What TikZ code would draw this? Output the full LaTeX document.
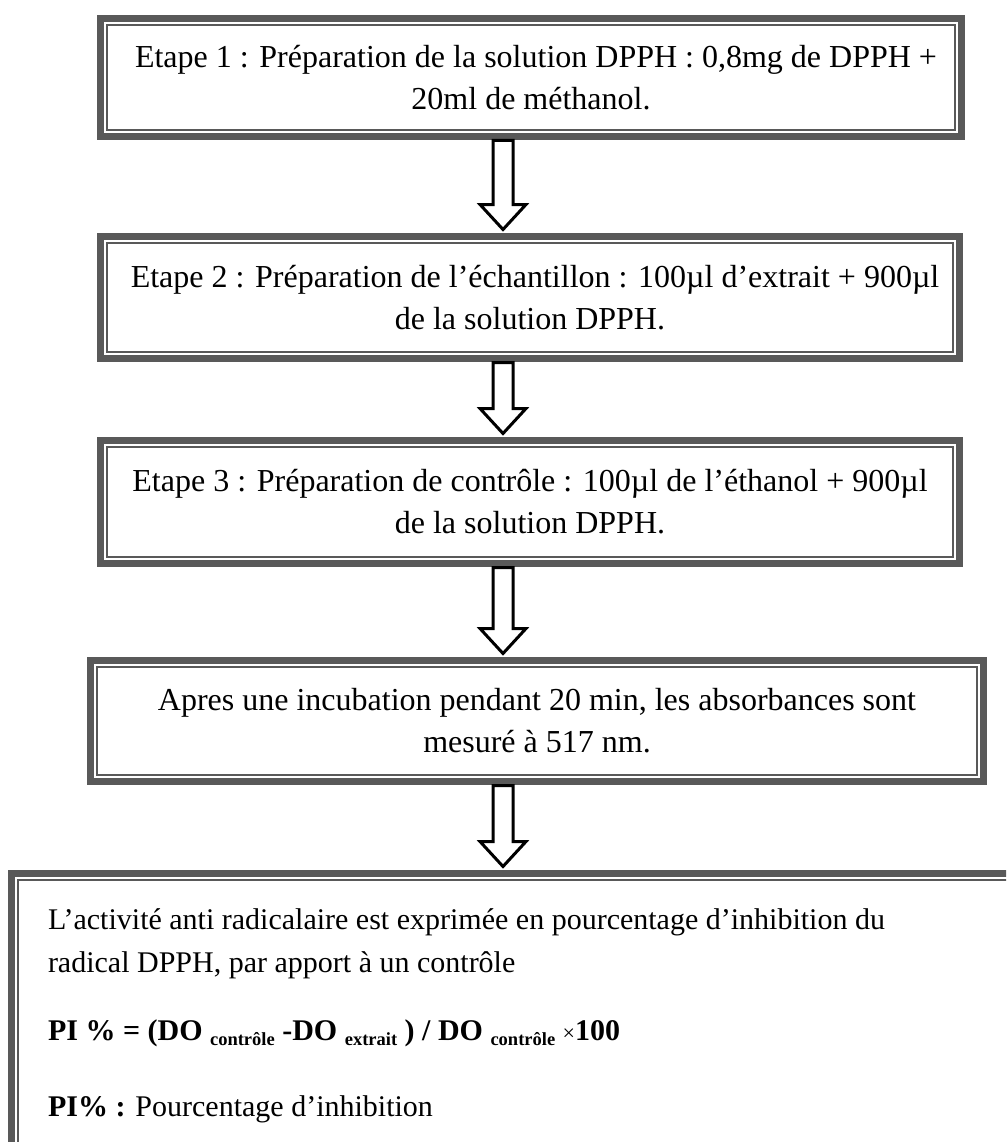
\documentclass[tikz,border=0pt]{standalone}
\usepackage{fontspec}
\setmainfont{Liberation Serif}
\usetikzlibrary{calc, positioning}
\definecolor{cadre}{RGB}{89,89,89}
\newcommand{\indice}[1]{\raisebox{-0.35ex}{\fontsize{18.5}{18.5}\selectfont #1}}
\tikzset{
  etape/.style={draw=cadre, line width=7pt, outer sep=0pt, inner sep=0pt,
    align=center, font=\fontsize{32}{42}\selectfont},
  bilan/.style={draw=cadre, line width=7pt, outer sep=0pt, anchor=north west,
    inner xsep=36.5pt, inner ysep=35pt, font=\fontsize{30}{43}\selectfont},
  filet/.style={draw=cadre, line width=2.4pt},
  fleche/.style={draw=black, line width=3pt, fill=white, line join=miter,
    to path={let \p1=(\tikztostart), \p2=(\tikztotarget) in
      (\x1-10pt,\y1-4pt) -- (\x1-10pt,\y2+32pt) -- (\x1-23pt,\y2+32pt)
      -- (\x1,\y2+7pt) -- (\x1+23pt,\y2+32pt) -- (\x1+10pt,\y2+32pt)
      -- (\x1+10pt,\y1-4pt) -- cycle}}
}
\begin{document}
\begin{tikzpicture}[x=1pt,y=-1pt]
  \path[use as bounding box, clip] (0,0) rectangle (1006,1142);
  \coordinate (axe) at (503,0);
  \node[etape, minimum width=861pt, minimum height=118pt] (s1) at (531,77.5)
    {\hspace*{10pt}Etape 1 : Préparation de la solution DPPH : 0,8mg de DPPH +\\20ml de méthanol.};
  \node[etape, minimum width=859pt, minimum height=122pt] (s2) at (530,297.5)
    {\hspace*{10pt}Etape 2 : Préparation de l’échantillon : 100µl d’extrait + 900µl\\de la solution DPPH.};
  \node[etape, minimum width=859pt, minimum height=123pt] (s3) at (530,502)
    {Etape 3 : Préparation de contrôle : 100µl de l’éthanol + 900µl\\de la solution DPPH.};
  \node[etape, minimum width=893pt, minimum height=121pt] (s4) at (537,721)
    {Apres une incubation pendant 20 min, les absorbances sont\\mesuré à 517 nm.};
  \node[bilan] (res) at (11.5,873.5) {\begin{minipage}[t][260pt][t]{960pt}
    L’activité anti radicalaire est exprimée en pourcentage d’inhibition du\\
    radical DPPH, par apport à un contrôle\\[25pt]
    \textbf{PI \% = (DO \indice{contrôle} -DO \indice{extrait} ) / DO \indice{contrôle}}
    {\fontsize{22}{22}\selectfont ×}\textbf{100}\\[33pt]
    \textbf{PI\% :} Pourcentage d’inhibition
    \end{minipage}};
  \foreach \n in {s1,s2,s3,s4,res}
    \draw[filet] ([shift={(6.7pt,-6.7pt)}]\n.north west) rectangle ([shift={(-6.7pt,6.7pt)}]\n.south east);
  \draw[fleche] (s1.south -| axe) to (s2.north -| axe);
  \draw[fleche] (s2.south -| axe) to (s3.north -| axe);
  \draw[fleche] (s3.south -| axe) to (s4.north -| axe);
  \draw[fleche] (s4.south -| axe) to (res.north -| axe);
\end{tikzpicture}
\end{document}
